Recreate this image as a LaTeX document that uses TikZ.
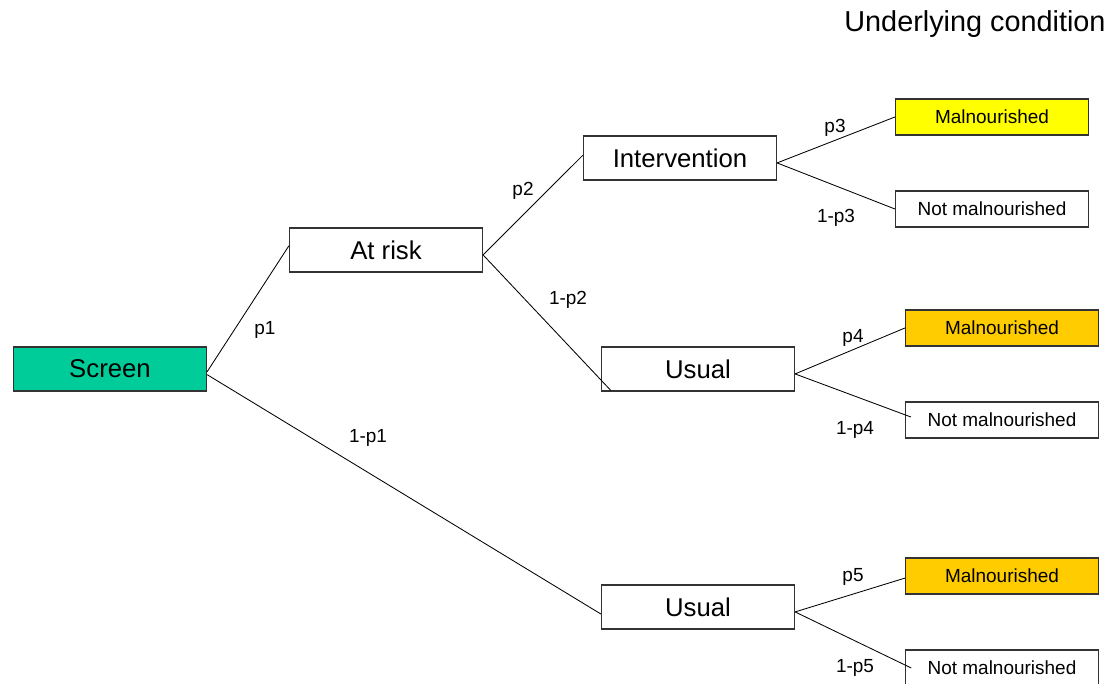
\documentclass[tikz,border=0pt]{standalone}
\usepackage{fontspec}
\setmainfont{Liberation Sans}
\usetikzlibrary{positioning}

\definecolor{screengreen}{HTML}{00CC99}
\definecolor{malyellow}{HTML}{FFFF00}
\definecolor{malorange}{HTML}{FFCC00}
\definecolor{boxgray}{HTML}{333333}

\begin{document}
\begin{tikzpicture}[x=0.025cm,y=-0.025cm,
  box/.style={rectangle,draw=boxgray,line width=0.8pt,minimum width=4.825cm,minimum height=1.1cm,inner sep=0pt,font=\fontsize{18.3}{21}\selectfont},
  leaf/.style={rectangle,draw=boxgray,line width=0.8pt,minimum width=4.825cm,minimum height=0.9cm,inner sep=0pt,font=\fontsize{13.5}{16}\selectfont},
  prob/.style={font=\fontsize{13.5}{16}\selectfont,inner sep=0pt},
  branch/.style={black,line width=0.6pt}]
\useasboundingbox (0,0) rectangle (1113,684);

% decision and chance boxes
\node[box,fill=screengreen] (screen) at (110,369) {Screen};
\node[box] (atrisk) at (386,250) {At risk};
\node[box] (interv) at (680,158) {Intervention};
\node[box] (usualA) at (698,369) {Usual};
\node[box] (usualB) at (698,607) {Usual};

% outcomes
\node[leaf,fill=malyellow] (malA) at (992,117) {Malnourished};
\node[leaf] (notmalA) at (992,209) {Not malnourished};
\node[leaf,fill=malorange] (malB) at (1002,328) {Malnourished};
\node[leaf] (notmalB) at (1002,420) {Not malnourished};
\node[leaf,fill=malorange] (malC) at (1002,576) {Malnourished};
\node[leaf] (notmalC) at (1002,668) {Not malnourished};

\node[font=\fontsize{20.5}{24}\selectfont,inner sep=0pt] (title) at (975,24) {Underlying condition};

% branches
\draw[branch] ([yshift=-2pt]screen.east) -- ([yshift=3pt]atrisk.west);
\draw[branch] ([yshift=-4pt]screen.east) -- ([yshift=-5pt]usualB.west);
\draw[branch] ([yshift=-3.5pt]atrisk.east) -- ([yshift=2pt]interv.west);
\draw[branch] ([yshift=-3.5pt]atrisk.east) -- ([shift={(10,-1)}]usualA.south west);
\draw[branch] ([yshift=-3.5pt]interv.east) -- (malA.west);
\draw[branch] ([yshift=-3.5pt]interv.east) -- (notmalA.west);
\draw[branch] ([yshift=-3.5pt]usualA.east) -- (malB.west);
\draw[branch] ([yshift=-3.5pt]usualA.east) -- ([shift={(6,-3)}]notmalB.west);
\draw[branch] ([yshift=-3.5pt]usualB.east) -- ([yshift=-1.5pt]malC.west);
\draw[branch] ([yshift=-3.5pt]usualB.east) -- ([xshift=4.5pt]notmalC.west);

% probabilities
\node[prob] (lp1) at (265,330) {p1};
\node[prob] (lq1) at (368,438) {1-p1};
\node[prob] (lp2) at (523,191) {p2};
\node[prob] (lq2) at (568,300) {1-p2};
\node[prob] (lp3) at (835,128) {p3};
\node[prob] (lq3) at (836,218) {1-p3};
\node[prob] (lp4) at (853,338) {p4};
\node[prob] (lq4) at (855,430) {1-p4};
\node[prob] (lp5) at (853,577) {p5};
\node[prob] (lq5) at (855,668) {1-p5};

\end{tikzpicture}
\end{document}
